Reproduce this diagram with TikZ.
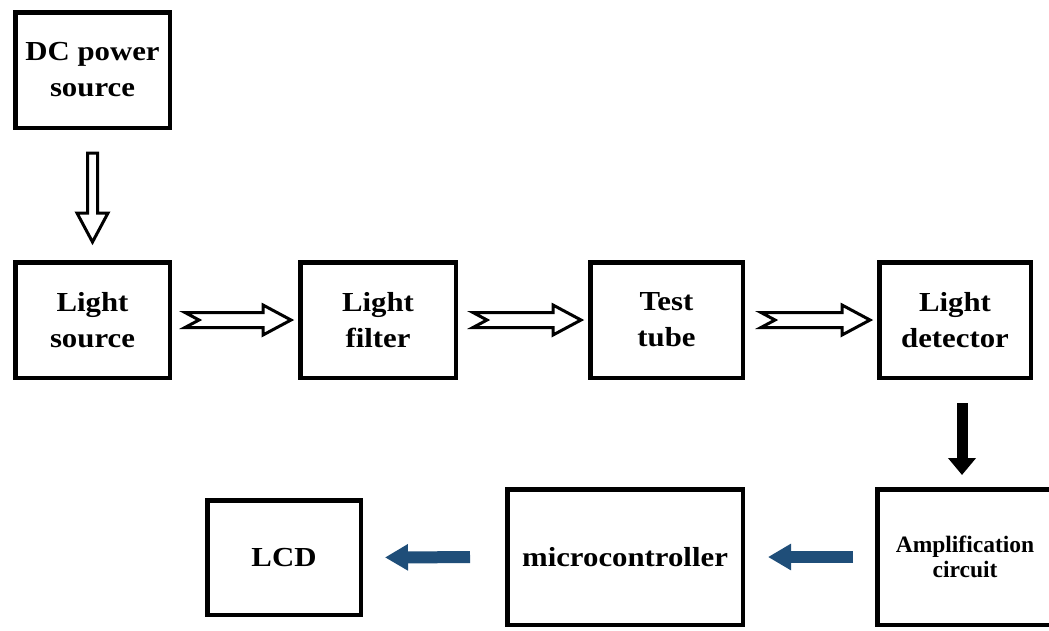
\documentclass[tikz,border=0pt]{standalone}
\usepackage{fontspec}
\setmainfont{Liberation Serif}
\newfontfamily\boxfont[FakeStretch=1.12]{Liberation Serif}
\usetikzlibrary{calc,arrows.meta}
\definecolor{arrowblue}{HTML}{1F4E79}
\tikzset{
  blk/.style={draw, line width=4.5pt, inner sep=0pt, align=center,
    font=\boxfont\bfseries\fontsize{27.5}{36}\selectfont},
  hollowh/.style={draw, line width=3pt, fill=white, line join=miter,
    to path={let \p1=($(\tikztostart.east)+(#1,0)$), \p2=($(\tikztotarget.west)+(-7,0)$) in
      (\x1,\y1+7.5) -- (\x2-28,\y1+7.5) -- (\x2-28,\y1+15) -- (\x2,\y1)
      -- (\x2-28,\y1-15) -- (\x2-28,\y1-7.5) -- (\x1,\y1-7.5) -- (\x1+14,\y1) -- cycle}},
  hollowv/.style={draw, line width=3pt, fill=white, line join=miter,
    to path={let \p1=($(\tikztostart.south)+(0,23)$), \p2=($(\tikztotarget.north)+(0,-18)$) in
      (\x1-5,\y1) -- (\x1-5,\y2+29) -- (\x1-15.5,\y2+29) -- (\x1,\y2)
      -- (\x1+15.5,\y2+29) -- (\x1+5,\y2+29) -- (\x1+5,\y1) -- cycle}},
  blackarrow/.style={draw=black, line width=11pt, -{Triangle[width=27pt,length=17pt]}},
  bluearrow/.style={draw=arrowblue, line width=12pt, -{Triangle[width=25pt,length=23pt]}},
}
\begin{document}
\begin{tikzpicture}[x=1pt,y=-1pt]
\useasboundingbox (0,0) rectangle (1049,630);
\clip (0,0) rectangle (1049,630);
\fill[white] (0,0) rectangle (1049,630);

\node[blk, minimum width=154.5pt, minimum height=115.5pt] (dc) at (92.5,70) {DC power\\source};
\node[blk, minimum width=154.5pt, minimum height=115.5pt] (ls) at (92.5,320) {Light\\source};
\node[blk, minimum width=155.5pt, minimum height=115.5pt] (lf) at (378,320) {Light\\filter};
\node[blk, minimum width=152.5pt, minimum height=115.5pt] (tt) at (666.5,320) {Test\\tube};
\node[blk, minimum width=151.5pt, minimum height=115.5pt] (ld) at (955,320) {Light\\detector};
\node[blk, minimum width=175.5pt, minimum height=135.5pt,
      font=\rmfamily\bfseries\fontsize{23.5}{25}\selectfont] (amp) at (965,557) {Amplification\\circuit};
\node[blk, minimum width=235.5pt, minimum height=135.5pt] (mc) at (625,557) {microcontroller};
\node[blk, minimum width=153.5pt, minimum height=114.5pt] (lcd) at (284,557.5) {LCD};

\draw[hollowv] (dc) to (ls);
\draw[hollowh=13] (ls) to (lf);
\draw[hollowh=15] (lf) to (tt);
\draw[hollowh=16] (tt) to (ld);

\coordinate (bt) at ($(ld.south)+(7,0)$);
\draw[blackarrow, shorten <=23pt, shorten >=12pt] (bt) -- (bt |- amp.north);

\draw[bluearrow, shorten <=22pt, shorten >=23pt] (amp.west) -- (mc.east);
\draw[bluearrow, shorten <=35pt, shorten >=22pt] (mc.west) -- (lcd.east);
\end{tikzpicture}
\end{document}
